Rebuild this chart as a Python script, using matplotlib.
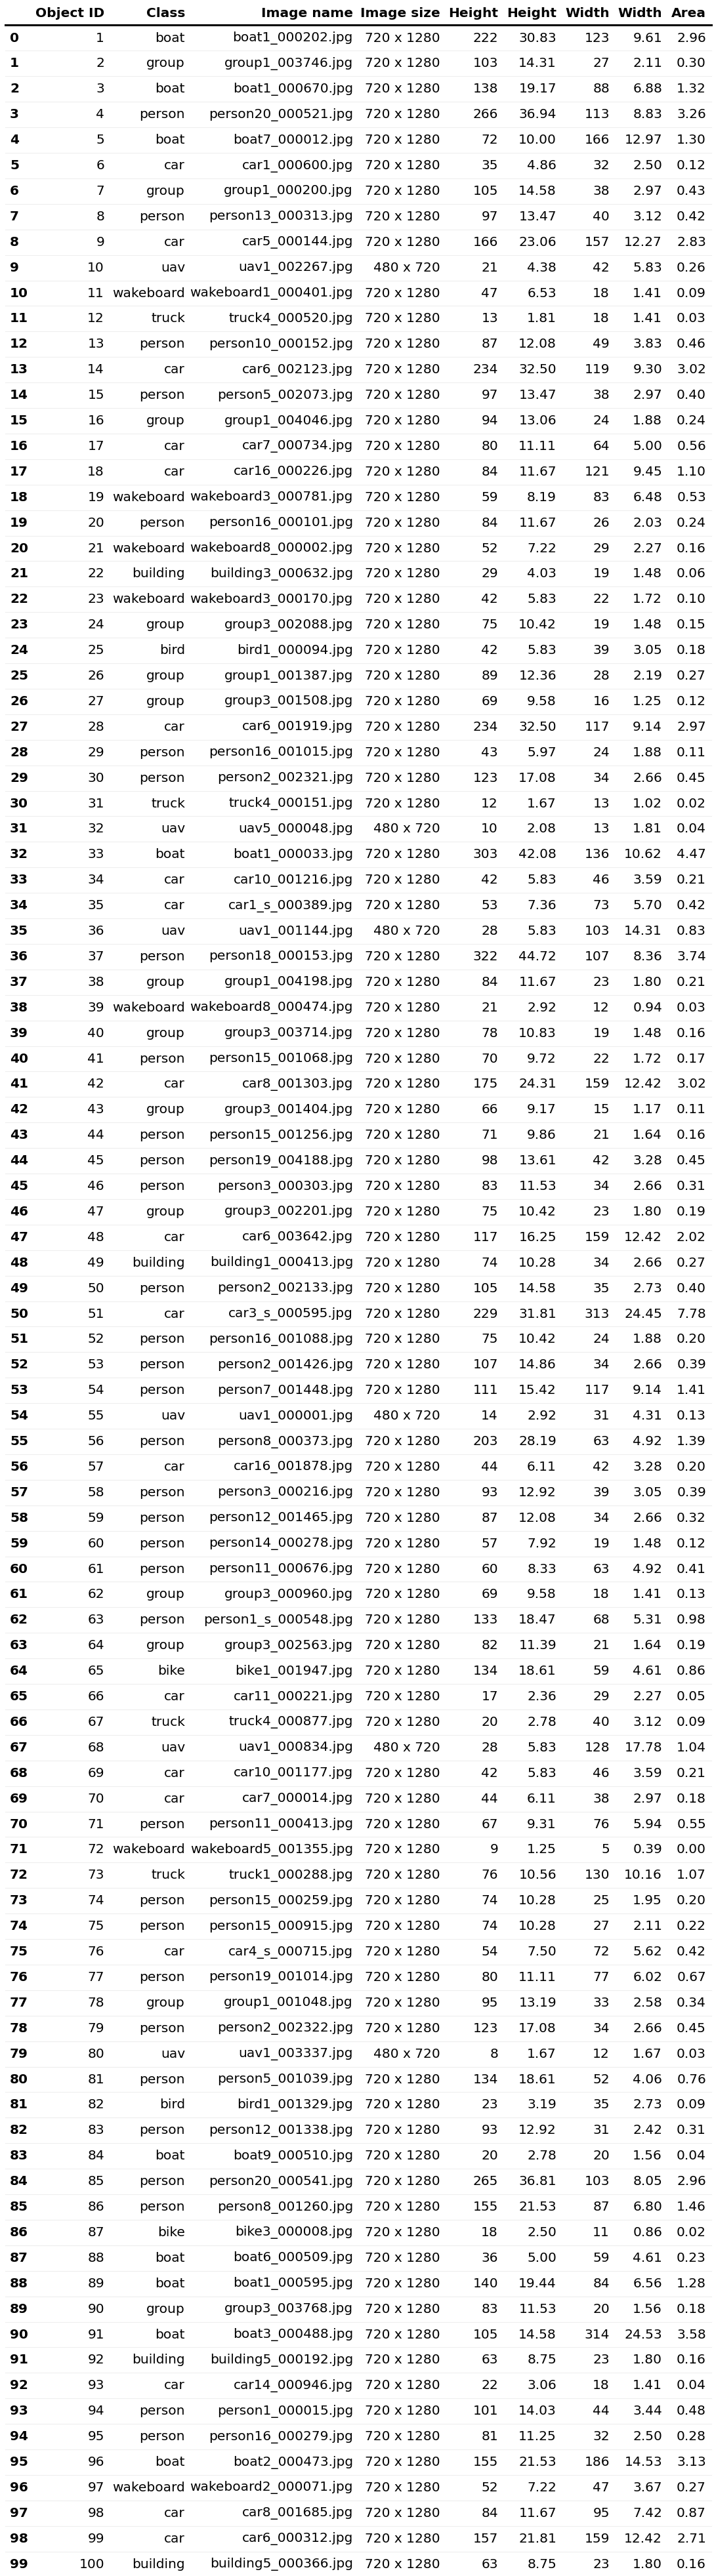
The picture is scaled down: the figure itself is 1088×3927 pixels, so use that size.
import matplotlib
matplotlib.use('Agg')
import matplotlib.pyplot as plt

W, H = 1088, 3927
dpi = 100

columns = ['Object ID', 'Class', 'Image name', 'Image size', 'Height', 'Height', 'Width', 'Width', 'Area']

classes = ['boat', 'group', 'boat', 'person', 'boat', 'car', 'group', 'person', 'car', 'uav',
           'wakeboard', 'truck', 'person', 'car', 'person', 'group', 'car', 'car', 'wakeboard', 'person',
           'wakeboard', 'building', 'wakeboard', 'group', 'bird', 'group', 'group', 'car', 'person', 'person',
           'truck', 'uav', 'boat', 'car', 'car', 'uav', 'person', 'group', 'wakeboard', 'group',
           'person', 'car', 'group', 'person', 'person', 'person', 'group', 'car', 'building', 'person',
           'car', 'person', 'person', 'person', 'uav', 'person', 'car', 'person', 'person', 'person',
           'person', 'group', 'person', 'group', 'bike', 'car', 'truck', 'uav', 'car', 'car',
           'person', 'wakeboard', 'truck', 'person', 'person', 'car', 'person', 'group', 'person', 'uav',
           'person', 'bird', 'person', 'boat', 'person', 'person', 'bike', 'boat', 'boat', 'group',
           'boat', 'building', 'car', 'person', 'person', 'boat', 'wakeboard', 'car', 'car', 'building']

image_names = ['boat1_000202', 'group1_003746', 'boat1_000670', 'person20_000521', 'boat7_000012',
               'car1_000600', 'group1_000200', 'person13_000313', 'car5_000144', 'uav1_002267',
               'wakeboard1_000401', 'truck4_000520', 'person10_000152', 'car6_002123', 'person5_002073',
               'group1_004046', 'car7_000734', 'car16_000226', 'wakeboard3_000781', 'person16_000101',
               'wakeboard8_000002', 'building3_000632', 'wakeboard3_000170', 'group3_002088', 'bird1_000094',
               'group1_001387', 'group3_001508', 'car6_001919', 'person16_001015', 'person2_002321',
               'truck4_000151', 'uav5_000048', 'boat1_000033', 'car10_001216', 'car1_s_000389',
               'uav1_001144', 'person18_000153', 'group1_004198', 'wakeboard8_000474', 'group3_003714',
               'person15_001068', 'car8_001303', 'group3_001404', 'person15_001256', 'person19_004188',
               'person3_000303', 'group3_002201', 'car6_003642', 'building1_000413', 'person2_002133',
               'car3_s_000595', 'person16_001088', 'person2_001426', 'person7_001448', 'uav1_000001',
               'person8_000373', 'car16_001878', 'person3_000216', 'person12_001465', 'person14_000278',
               'person11_000676', 'group3_000960', 'person1_s_000548', 'group3_002563', 'bike1_001947',
               'car11_000221', 'truck4_000877', 'uav1_000834', 'car10_001177', 'car7_000014',
               'person11_000413', 'wakeboard5_001355', 'truck1_000288', 'person15_000259', 'person15_000915',
               'car4_s_000715', 'person19_001014', 'group1_001048', 'person2_002322', 'uav1_003337',
               'person5_001039', 'bird1_001329', 'person12_001338', 'boat9_000510', 'person20_000541',
               'person8_001260', 'bike3_000008', 'boat6_000509', 'boat1_000595', 'group3_003768',
               'boat3_000488', 'building5_000192', 'car14_000946', 'person1_000015', 'person16_000279',
               'boat2_000473', 'wakeboard2_000071', 'car8_001685', 'car6_000312', 'building5_000366']

height_px = [222, 103, 138, 266, 72, 35, 105, 97, 166, 21,
             47, 13, 87, 234, 97, 94, 80, 84, 59, 84,
             52, 29, 42, 75, 42, 89, 69, 234, 43, 123,
             12, 10, 303, 42, 53, 28, 322, 84, 21, 78,
             70, 175, 66, 71, 98, 83, 75, 117, 74, 105,
             229, 75, 107, 111, 14, 203, 44, 93, 87, 57,
             60, 69, 133, 82, 134, 17, 20, 28, 42, 44,
             67, 9, 76, 74, 74, 54, 80, 95, 123, 8,
             134, 23, 93, 20, 265, 155, 18, 36, 140, 83,
             105, 63, 22, 101, 81, 155, 52, 84, 157, 63]

height_pct = [30.83, 14.31, 19.17, 36.94, 10.00, 4.86, 14.58, 13.47, 23.06, 4.38,
              6.53, 1.81, 12.08, 32.50, 13.47, 13.06, 11.11, 11.67, 8.19, 11.67,
              7.22, 4.03, 5.83, 10.42, 5.83, 12.36, 9.58, 32.50, 5.97, 17.08,
              1.67, 2.08, 42.08, 5.83, 7.36, 5.83, 44.72, 11.67, 2.92, 10.83,
              9.72, 24.31, 9.17, 9.86, 13.61, 11.53, 10.42, 16.25, 10.28, 14.58,
              31.81, 10.42, 14.86, 15.42, 2.92, 28.19, 6.11, 12.92, 12.08, 7.92,
              8.33, 9.58, 18.47, 11.39, 18.61, 2.36, 2.78, 5.83, 5.83, 6.11,
              9.31, 1.25, 10.56, 10.28, 10.28, 7.50, 11.11, 13.19, 17.08, 1.67,
              18.61, 3.19, 12.92, 2.78, 36.81, 21.53, 2.50, 5.00, 19.44, 11.53,
              14.58, 8.75, 3.06, 14.03, 11.25, 21.53, 7.22, 11.67, 21.81, 8.75]

width_px = [123, 27, 88, 113, 166, 32, 38, 40, 157, 42,
            18, 18, 49, 119, 38, 24, 64, 121, 83, 26,
            29, 19, 22, 19, 39, 28, 16, 117, 24, 34,
            13, 13, 136, 46, 73, 103, 107, 23, 12, 19,
            22, 159, 15, 21, 42, 34, 23, 159, 34, 35,
            313, 24, 34, 117, 31, 63, 42, 39, 34, 19,
            63, 18, 68, 21, 59, 29, 40, 128, 46, 38,
            76, 5, 130, 25, 27, 72, 77, 33, 34, 12,
            52, 35, 31, 20, 103, 87, 11, 59, 84, 20,
            314, 23, 18, 44, 32, 186, 47, 95, 159, 23]

width_pct = [9.61, 2.11, 6.88, 8.83, 12.97, 2.50, 2.97, 3.12, 12.27, 5.83,
             1.41, 1.41, 3.83, 9.30, 2.97, 1.88, 5.00, 9.45, 6.48, 2.03,
             2.27, 1.48, 1.72, 1.48, 3.05, 2.19, 1.25, 9.14, 1.88, 2.66,
             1.02, 1.81, 10.62, 3.59, 5.70, 14.31, 8.36, 1.80, 0.94, 1.48,
             1.72, 12.42, 1.17, 1.64, 3.28, 2.66, 1.80, 12.42, 2.66, 2.73,
             24.45, 1.88, 2.66, 9.14, 4.31, 4.92, 3.28, 3.05, 2.66, 1.48,
             4.92, 1.41, 5.31, 1.64, 4.61, 2.27, 3.12, 17.78, 3.59, 2.97,
             5.94, 0.39, 10.16, 1.95, 2.11, 5.62, 6.02, 2.58, 2.66, 1.67,
             4.06, 2.73, 2.42, 1.56, 8.05, 6.80, 0.86, 4.61, 6.56, 1.56,
             24.53, 1.80, 1.41, 3.44, 2.50, 14.53, 3.67, 7.42, 12.42, 1.80]

area_pct = [2.96, 0.30, 1.32, 3.26, 1.30, 0.12, 0.43, 0.42, 2.83, 0.26,
            0.09, 0.03, 0.46, 3.02, 0.40, 0.24, 0.56, 1.10, 0.53, 0.24,
            0.16, 0.06, 0.10, 0.15, 0.18, 0.27, 0.12, 2.97, 0.11, 0.45,
            0.02, 0.04, 4.47, 0.21, 0.42, 0.83, 3.74, 0.21, 0.03, 0.16,
            0.17, 3.02, 0.11, 0.16, 0.45, 0.31, 0.19, 2.02, 0.27, 0.40,
            7.78, 0.20, 0.39, 1.41, 0.13, 1.39, 0.20, 0.39, 0.32, 0.12,
            0.41, 0.13, 0.98, 0.19, 0.86, 0.05, 0.09, 1.04, 0.21, 0.18,
            0.55, 0.00, 1.07, 0.20, 0.22, 0.42, 0.67, 0.34, 0.45, 0.03,
            0.76, 0.09, 0.31, 0.04, 2.96, 1.46, 0.02, 0.23, 1.28, 0.18,
            3.58, 0.16, 0.04, 0.48, 0.28, 3.13, 0.27, 0.87, 2.71, 0.16]

uav_small = {9, 31, 35, 54, 67, 79}  # rows shot at 480 x 720
image_sizes = ['480 x 720' if i in uav_small else '720 x 1280' for i in range(100)]

# right edges of the columns, in pixels
col_x = [159, 282, 538, 671, 759, 848, 929, 1009, 1076]
header_y = 20
line_y = 38
row0_y = 58
row_h = 38.9
fs = 14.5

fig = plt.figure(figsize=(W / dpi, H / dpi), dpi=dpi)
ax = fig.add_axes([0, 0, 1, 1])
ax.set_xlim(0, W)
ax.set_ylim(H, 0)
ax.axis('off')

for x, name in zip(col_x, columns):
    ax.text(x, header_y, name, ha='right', va='center', fontsize=fs, fontweight='bold')
ax.plot([8, 1084], [line_y, line_y], color='black', lw=2.2)

for i in range(100):
    y = row0_y + i * row_h
    if i > 0:
        ax.plot([8, 1084], [y - row_h / 2, y - row_h / 2], color='#eeeeee', lw=0.8)
    ax.text(15, y, str(i), ha='left', va='center', fontsize=fs, fontweight='bold')
    vals = [str(i + 1), classes[i], image_names[i] + '.jpg', image_sizes[i],
            str(height_px[i]), f'{height_pct[i]:.2f}', str(width_px[i]),
            f'{width_pct[i]:.2f}', f'{area_pct[i]:.2f}']
    for x, v in zip(col_x, vals):
        ax.text(x, y, v, ha='right', va='center', fontsize=fs)

fig.savefig('out.png', dpi=dpi)
